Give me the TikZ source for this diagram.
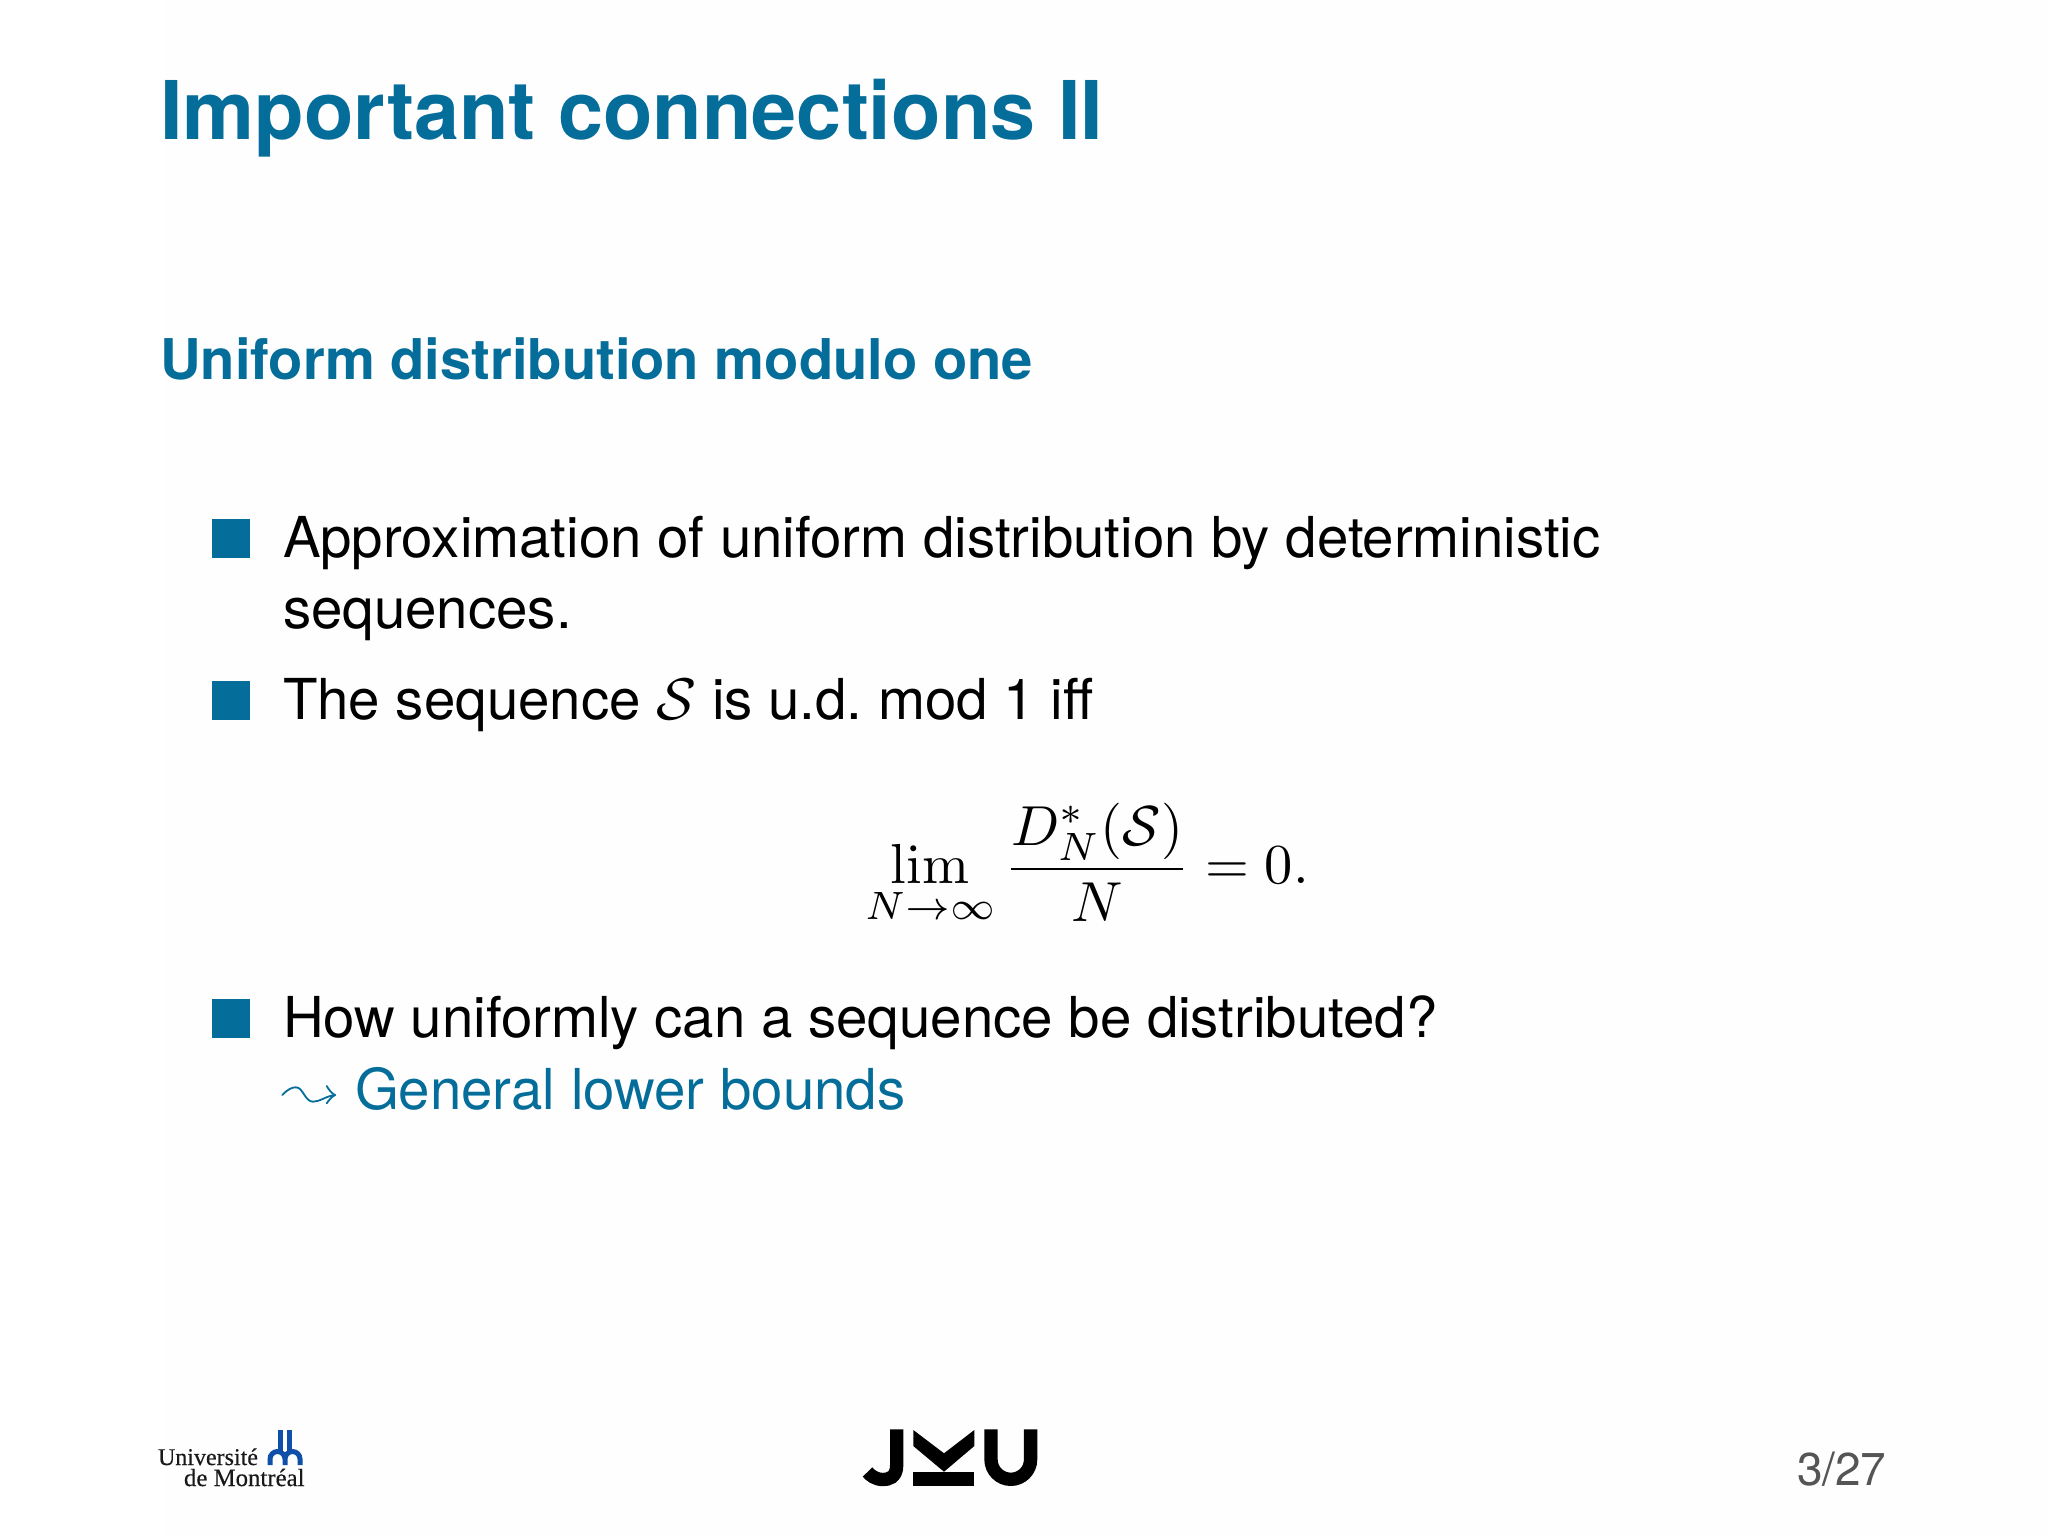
\documentclass[tikz,border=0pt]{standalone}
\usepackage{amsmath,amssymb}
\usepackage[no-math]{fontspec}
\setmainfont{TeX Gyre Heros}
\newfontfamily\udemfont[FakeBold=0.4]{Liberation Serif}
\definecolor{jkublue}{HTML}{046D9A}
\definecolor{udemblue}{HTML}{0F4FA8}
\definecolor{pagegray}{HTML}{555555}
\definecolor{paperwhite}{HTML}{FEFEFE}
\tikzset{
  txt/.style={anchor=base west,inner sep=0pt,outer sep=0pt,align=left},
  titletxt/.style={txt,text=jkublue,font=\fontsize{40.5}{48}\selectfont\bfseries},
  subtxt/.style={txt,text=jkublue,font=\fontsize{28.07}{34}\selectfont\bfseries},
  bodytxt/.style={txt,text=black,font=\fontsize{28.2}{34}\selectfont},
  bullet/.style={fill=jkublue,draw=none},
  udemtxt/.style={txt,text=black!90,font=\fontsize{12}{13}\selectfont\udemfont},
}
\begin{document}
\begin{tikzpicture}[x=0.5pt,y=-0.5pt]
\useasboundingbox (0,0) rectangle (2048,1536);
\fill[white] (0,0) rectangle (2048,1536);
\fill[paperwhite] (165,0) rectangle (2048,1536);
\node[titletxt] (title) at (160,140) {Important connections II};
\node[subtxt] (sub) at (160,379) {Uniform distribution modulo one};
\fill[bullet] (212,519) rectangle (250,558);
\node[bodytxt] (l1) at (283,557) {Approximation of uniform distribution by deterministic};
\node[bodytxt] (l2) at (283,628) {sequences.};
\fill[bullet] (212,681) rectangle (250,720);
\node[bodytxt] (l3) at (283,719) {The sequence \scalebox{1.18}{$\mathcal{S}$} is u.d.\ mod 1 iff};
\node[inner sep=0pt,anchor=center] (eq) at (1087,864) {\scalebox{2.82}{$\displaystyle \lim_{N\to\infty}\frac{D_N^*(\mathcal{S})}{N}=0.$}};
\fill[bullet] (212,999) rectangle (250,1038);
\node[bodytxt] (l4) at (283,1037) {How uniformly can a sequence be distributed?};
\node[bodytxt,text=jkublue] (l5) at (355,1109) {General lower bounds};
\draw[jkublue,line width=0.9pt,line cap=round,line join=round]
  (282.3,1095) .. controls (288,1089) and (292,1087.3) .. (296,1087.3)
  .. controls (303,1087.3) and (305,1101.7) .. (313,1101.7)
  .. controls (320,1101.7) and (326,1096) .. (335,1095);
\draw[jkublue,line width=0.9pt,line cap=round,line join=round]
  (326.7,1086) .. controls (329,1090) and (332,1093.5) .. (335,1095) .. controls (332,1096.5) and (329,1100) .. (326.7,1103.3);
% Universite de Montreal logo
\node[udemtxt] (u1) at (158,1465) {Université};
\node[udemtxt,font=\fontsize{12.4}{13}\selectfont\udemfont] (u2) at (184,1486) {de Montréal};
\draw[udemblue,line width=2.5pt,line cap=butt]
  (270,1465) -- (270,1459) arc[start angle=180,end angle=360,radius=7.5] -- (285,1465)
  (285,1459) arc[start angle=180,end angle=360,radius=7.5] -- (300,1465);
\draw[udemblue,line width=2.5pt] (280,1430) -- (280,1453) (289,1430) -- (289,1453);
% JKU logo
\draw[black,line width=6.67pt] (896.7,1429.3) -- (896.7,1465) .. controls (896.7,1478) and (888,1479.5) .. (883,1479.5) .. controls (875,1479.5) and (870,1475) .. (867.5,1472);
\fill[black] (913.3,1430) -- (944,1453.3) -- (974.3,1430) -- (974.3,1446) -- (944,1471.7) -- (913.3,1446) -- cycle;
\fill[black] (913.3,1472.3) rectangle (974.3,1485.7);
\draw[black,line width=6.67pt] (991,1429.3) -- (991,1459.5) arc[start angle=180,end angle=0,radius=19.8] -- (1030.6,1429.3);
\node[txt,text=pagegray,font=\fontsize{23}{28}\selectfont] (pg) at (1797,1485.5) {3/27};
\end{tikzpicture}
\end{document}
